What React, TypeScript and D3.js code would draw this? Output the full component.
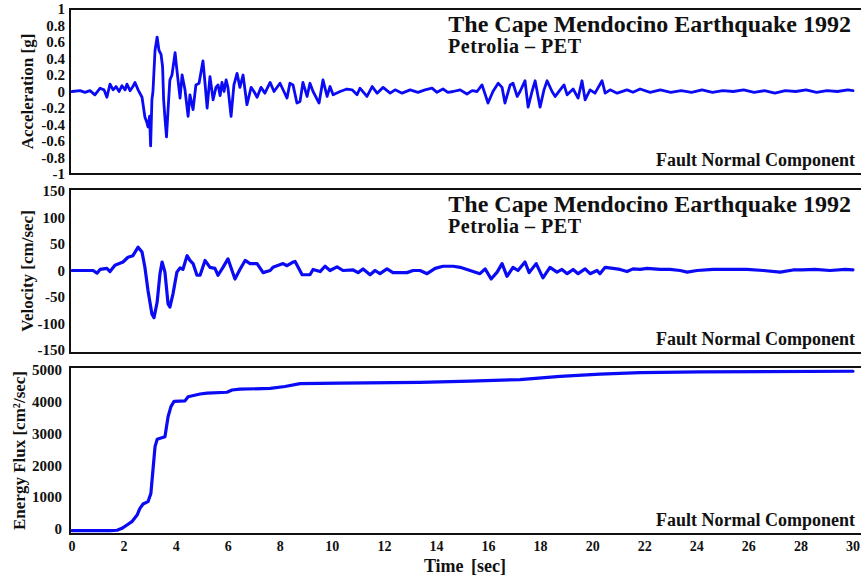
import React from 'react';
import * as d3 from 'd3';

// ---------- DATA ----------
const accTime = [0, 0.31, 0.5, 0.69, 0.88, 1.08, 1.23, 1.34, 1.46, 1.58, 1.69, 1.81, 1.92, 2.04, 2.11, 2.23, 2.34, 2.42, 2.54, 2.69, 2.8, 2.88, 2.92, 2.98, 3.02, 3.07, 3.11, 3.19, 3.27, 3.34, 3.42, 3.48, 3.52, 3.57, 3.63, 3.69, 3.76, 3.84, 3.96, 4.03, 4.15, 4.23, 4.34, 4.46, 4.53, 4.65, 4.76, 4.88, 5.03, 5.11, 5.19, 5.3, 5.42, 5.53, 5.61, 5.69, 5.76, 5.84, 5.92, 5.99, 6.11, 6.22, 6.34, 6.45, 6.57, 6.72, 6.88, 6.99, 7.11, 7.26, 7.41, 7.61, 7.76, 7.99, 8.14, 8.26, 8.37, 8.49, 8.64, 8.76, 8.87, 9.03, 9.14, 9.26, 9.49, 9.64, 9.8, 9.91, 10.03, 10.3, 10.56, 10.76, 10.95, 11.06, 11.33, 11.53, 11.72, 11.95, 12.22, 12.41, 12.68, 12.99, 13.29, 13.56, 13.83, 14.02, 14.25, 14.44, 14.64, 14.91, 15.17, 15.37, 15.56, 15.75, 15.98, 16.17, 16.37, 16.52, 16.63, 16.83, 16.94, 17.1, 17.21, 17.4, 17.52, 17.67, 17.79, 17.98, 18.13, 18.25, 18.44, 18.56, 18.75, 18.9, 19.02, 19.25, 19.44, 19.59, 19.71, 19.9, 20.09, 20.36, 20.48, 20.67, 20.94, 21.32, 21.55, 21.82, 22.21, 22.6, 23.0, 23.4, 23.8, 24.2, 24.6, 25.0, 25.4, 25.8, 26.2, 26.6, 27.0, 27.4, 27.8, 28.2, 28.6, 29.0, 29.4, 29.8, 30];
const accValues = [0, 0.01, -0.01, 0.01, -0.04, 0.04, 0.02, -0.07, 0.09, 0.02, 0.06, 0.0, 0.07, 0.02, 0.09, 0.01, 0.06, 0.11, 0.02, -0.07, -0.31, -0.38, -0.43, -0.3, -0.66, -0.1, 0.0, 0.5, 0.66, 0.5, 0.45, 0.3, -0.1, -0.32, -0.55, -0.22, 0.14, 0.2, 0.47, 0.26, -0.08, 0.2, 0.02, -0.3, -0.04, -0.22, 0.08, 0.1, 0.37, 0.1, -0.2, 0.18, -0.1, 0.05, 0.08, -0.05, 0.11, 0.0, 0.14, 0.05, -0.3, 0.08, 0.22, 0.05, 0.2, -0.16, 0.05, 0.0, -0.07, 0.05, -0.02, 0.11, 0.0, 0.1, 0.0, -0.08, 0.1, 0.08, -0.14, -0.12, 0.11, -0.06, 0.1, 0.0, -0.14, 0.14, -0.06, 0.06, -0.04, 0.0, 0.03, 0.02, -0.04, 0.04, -0.06, 0.06, -0.02, 0.05, -0.02, 0.02, -0.02, 0.02, -0.01, 0.02, 0.04, -0.01, 0.03, -0.01, 0.0, 0.02, -0.03, 0.01, 0.0, 0.08, -0.14, 0.0, 0.1, 0.05, -0.14, 0.08, 0.1, -0.06, 0.0, 0.13, -0.19, 0.0, 0.13, -0.19, 0.02, 0.13, 0.0, -0.06, 0.02, 0.08, -0.04, 0.03, -0.08, 0.13, -0.1, 0.02, -0.02, 0.13, -0.02, 0.02, -0.02, 0.02, -0.01, 0.03, -0.01, 0.02, -0.01, 0.01, -0.01, 0.02, -0.01, 0.01, 0.0, 0.02, -0.01, 0.01, -0.02, 0.01, 0.0, 0.02, -0.01, 0.01, 0.0, 0.02, 0.01];

const velTime = [0, 0.81, 0.96, 1.08, 1.34, 1.46, 1.65, 1.96, 2.15, 2.34, 2.54, 2.69, 2.8, 2.92, 3.07, 3.15, 3.27, 3.38, 3.46, 3.57, 3.69, 3.76, 3.88, 4.03, 4.15, 4.26, 4.42, 4.53, 4.65, 4.8, 4.92, 5.11, 5.3, 5.49, 5.61, 5.8, 5.99, 6.26, 6.45, 6.65, 6.84, 7.11, 7.34, 7.61, 7.72, 8.11, 8.26, 8.49, 8.57, 8.84, 9.14, 9.26, 9.53, 9.72, 9.91, 10.18, 10.41, 10.8, 10.99, 11.18, 11.45, 11.64, 11.83, 12.1, 12.33, 12.87, 13.1, 13.37, 13.64, 13.95, 14.25, 14.64, 14.91, 15.29, 15.67, 15.87, 16.1, 16.33, 16.52, 16.71, 16.94, 17.13, 17.4, 17.56, 17.83, 18.09, 18.36, 18.63, 18.82, 19.02, 19.25, 19.44, 19.71, 19.9, 20.17, 20.28, 20.48, 20.78, 21.05, 21.32, 21.55, 21.82, 22.09, 22.59, 22.97, 23.36, 23.63, 24.01, 24.63, 25.93, 26.55, 27.2, 27.7, 28.04, 28.54, 29.12, 29.7, 30];
const velValues = [0, 0, -5, 2, 4, -2, 10, 16, 25, 28, 44, 35, 6, -38, -82, -89, -60, -6, 16, -3, -63, -69, -44, -3, 5, 2, 28, 19, 13, -9, -9, 19, 6, 4, -9, 6, 22, -16, 2, 19, 13, 13, -4, 0, 6, 13, 9, 16, 17, -8, -8, 2, -2, 8, 0, 7, 0, 1, -4, 3, -8, 0, -6, 3, -4, -4, 0, 0, -6, 4, 8, 8, 6, 0, -6, 3, -16, -3, 13, -11, 6, 0, 16, -4, 13, -14, 6, -3, 2, -6, 2, -6, 3, -6, 0, -6, 6, 4, 2, -2, 3, 2, 4, 2, 2, 0, -3, 0, 2, 2, 0, -3, 1, 1, 2, 0, 2, 1];

const energyTime = [0, 1.46, 1.73, 1.92, 2.11, 2.3, 2.5, 2.61, 2.73, 2.92, 3.03, 3.11, 3.19, 3.27, 3.57, 3.69, 3.8, 3.92, 4.34, 4.46, 4.92, 5.19, 5.95, 6.15, 6.45, 7.61, 8.18, 8.76, 10.3, 13.37, 15.29, 17.21, 18.75, 20.28, 21.82, 24.13, 30];
const energyValues = [-50, -50, -40, 20, 125, 230, 440, 650, 785, 860, 1120, 1855, 2590, 2820, 2900, 3530, 3850, 4015, 4030, 4160, 4245, 4270, 4300, 4370, 4400, 4420, 4480, 4570, 4590, 4610, 4650, 4700, 4800, 4870, 4920, 4940, 4960];

const timeTicks = [0, 2, 4, 6, 8, 10, 12, 14, 16, 18, 20, 22, 24, 26, 28, 30];
const accTicks = [1, 0.8, 0.6, 0.4, 0.2, 0, -0.2, -0.4, -0.6, -0.8, -1];
const velTicks = [150, 100, 50, 0, -50, -100, -150];
const energyTicks = [5000, 4000, 3000, 2000, 1000, 0];

const titleText = 'The Cape Mendocino Earthquake 1992';
const stationText = 'Petrolia – PET';
const componentText = 'Fault Normal Component';

// ---------- LAYOUT ----------
const W = 861;
const H = 579;
const FONT = '"Liberation Serif", "Times New Roman", serif';
const LINE = '#0a0af5';
const PLOT_LEFT = 70;
const PLOT_RIGHT = 868;

const x = d3.scaleLinear().domain([0, 30]).range([72, 853]);

type Panel = {
  key: string;
  top: number;
  bottom: number;
  y: d3.ScaleLinear<number, number>;
  ticks: number[];
  tickRight: number;
  labelX: number;
  label: string;
  time: number[];
  values: number[];
  title: boolean;
  lw: number;
};

const panels: Panel[] = [
  {
    key: 'acc', top: 9, bottom: 174,
    y: d3.scaleLinear().domain([-1, 1]).range([174, 9]),
    ticks: accTicks, tickRight: 65, labelX: 33, label: 'Acceleration [g]', time: accTime, values: accValues, title: true, lw: 2.8,
  },
  {
    key: 'vel', top: 189, bottom: 353,
    y: d3.scaleLinear().domain([-150, 150]).range([350, 191]),
    ticks: velTicks, tickRight: 65, labelX: 33, label: 'Velocity [cm/sec]', time: velTime, values: velValues, title: true, lw: 3.2,
  },
  {
    key: 'energy', top: 367, bottom: 534,
    y: d3.scaleLinear().domain([0, 5000]).range([529, 370]),
    ticks: energyTicks, tickRight: 62, labelX: 25, label: 'Energy Flux [cm²/sec]', time: energyTime, values: energyValues, title: false, lw: 3.2,
  },
];

export default function App() {
  return (
    <svg width={W} height={H} style={{ position: 'absolute', left: 0, top: 0, background: '#fff' }}
      fontFamily={FONT} fontWeight="bold">
      <rect x={0} y={0} width={W} height={H} fill="#fff" />
      {panels.map((p) => {
        const line = d3.line<number>()
          .x((_, i) => x(p.time[i]))
          .y((v) => p.y(v));
        const d = line(p.values) || '';
        const midY = (p.top + p.bottom) / 2;
        return (
          <g key={p.key}>
            <path d={d} fill="none" stroke={LINE} strokeWidth={p.lw} strokeLinejoin="round" strokeLinecap="round" />
            <rect x={PLOT_LEFT} y={p.top} width={PLOT_RIGHT - PLOT_LEFT} height={p.bottom - p.top}
              fill="none" stroke="#111" strokeWidth={2} />
            {p.ticks.map((t) => (
              <text key={t} x={p.tickRight} y={p.y(t)} dy="0.35em" textAnchor="end" fontSize={15} fill="#111">
                {String(t)}
              </text>
            ))}
            <text transform={`translate(${p.labelX},${midY}) rotate(-90)`} textAnchor="middle" fontSize={17} fill="#111">
              {p.label}
            </text>
            {p.title && (
              <>
                <text x={851} y={p.top + 23} textAnchor="end" fontSize={24} fill="#111">{titleText}</text>
                <text x={448} y={p.top + 44} fontSize={20} textLength={133} lengthAdjust="spacing" fill="#111">{stationText}</text>
              </>
            )}
            <text x={855} y={p.bottom - 8} textAnchor="end" fontSize={18} fill="#111">{componentText}</text>
          </g>
        );
      })}
      {timeTicks.map((t) => (
        <text key={t} x={x(t)} y={551} textAnchor="middle" fontSize={14} fill="#111">{t}</text>
      ))}
      <text x={465} y={572} textAnchor="middle" fontSize={18} fill="#111" wordSpacing={3}>Time [sec]</text>
    </svg>
  );
}
